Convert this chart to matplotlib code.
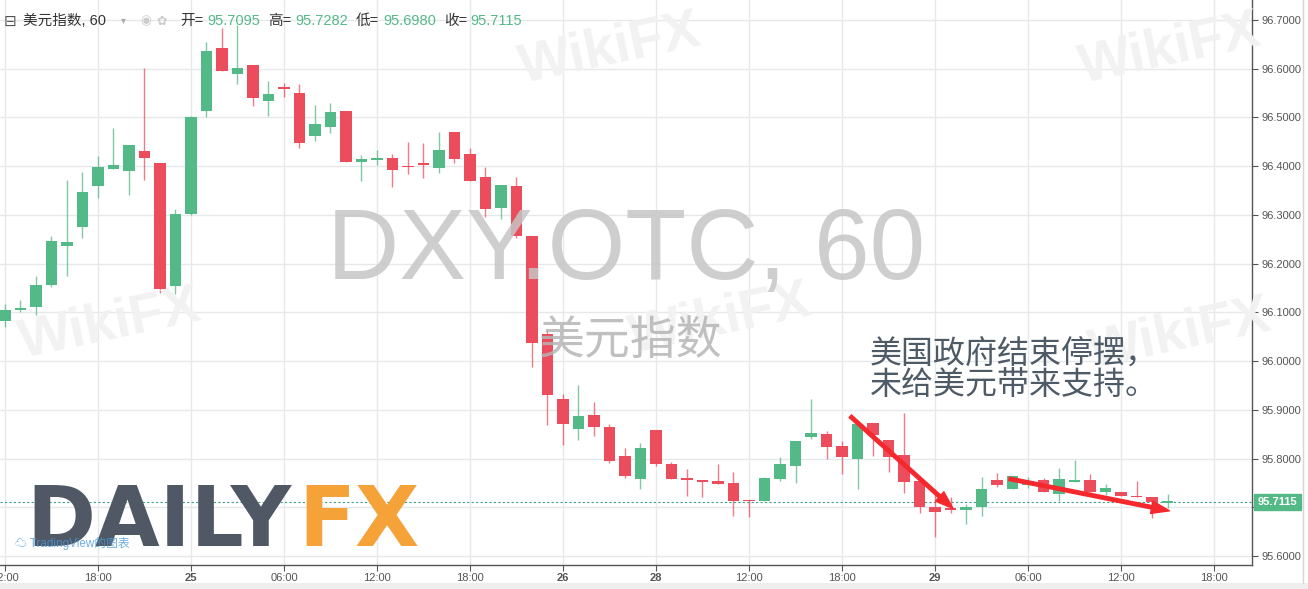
import matplotlib
import matplotlib.pyplot as plt
import numpy as np
from matplotlib.patches import FancyArrowPatch

matplotlib.use("Agg")

plt.rcParams["font.family"] = ["Liberation Sans", "Noto Sans CJK SC", "DejaVu Sans"]

# hourly candles, 24th 12:00 onwards (bar index = hour slot)
opens = [96.083, 96.106, 96.112, 96.156, 96.237, 96.276, 96.360, 96.395, 96.391, 96.431,
         96.407, 96.154, 96.303, 96.514, 96.643, 96.589, 96.608, 96.534, 96.563, 96.550,
         96.461, 96.481, 96.513, 96.408, 96.413, 96.417, 96.400, 96.405, 96.397, 96.470,
         96.425, 96.378, 96.315, 96.359, 96.257, 96.055, 95.922, 95.862, 95.889, 95.865,
         95.805, 95.758, 95.859, 95.789, 95.760, 95.755, 95.754, 95.750, 95.716, 95.713,
         95.759, 95.785, 95.845, 95.850, 95.826, 95.800, 95.874, 95.838, 95.807, 95.754,
         95.701, 95.699, 95.695, 95.701, 95.756, 95.738, 95.747, 95.756, 95.727, 95.753,
         95.756, 95.732, 95.731, 95.723, 95.721, 95.7095]
highs = [96.117, 96.125, 96.175, 96.257, 96.372, 96.388, 96.420, 96.478, 96.443, 96.601,
         96.407, 96.312, 96.503, 96.655, 96.684, 96.690, 96.608, 96.575, 96.571, 96.569,
         96.526, 96.529, 96.513, 96.423, 96.433, 96.426, 96.450, 96.447, 96.470, 96.470,
         96.437, 96.398, 96.361, 96.377, 96.257, 96.064, 95.933, 95.952, 95.916, 95.872,
         95.823, 95.833, 95.859, 95.794, 95.778, 95.755, 95.789, 95.773, 95.716, 95.762,
         95.803, 95.836, 95.922, 95.857, 95.836, 95.872, 95.874, 95.838, 95.894, 95.754,
         95.737, 95.722, 95.707, 95.762, 95.770, 95.764, 95.763, 95.761, 95.780, 95.797,
         95.768, 95.749, 95.731, 95.754, 95.721, 95.7282]
lows = [96.070, 96.101, 96.095, 96.153, 96.175, 96.253, 96.335, 96.394, 96.342, 96.372,
        96.140, 96.138, 96.300, 96.500, 96.596, 96.568, 96.524, 96.503, 96.541, 96.437,
        96.452, 96.468, 96.408, 96.370, 96.402, 96.358, 96.384, 96.376, 96.387, 96.407,
        96.370, 96.295, 96.291, 96.253, 95.989, 95.869, 95.829, 95.838, 95.847, 95.792,
        95.760, 95.737, 95.785, 95.759, 95.724, 95.721, 95.748, 95.683, 95.680, 95.713,
        95.754, 95.751, 95.841, 95.800, 95.768, 95.737, 95.806, 95.773, 95.729, 95.688,
        95.639, 95.688, 95.667, 95.683, 95.741, 95.738, 95.739, 95.731, 95.714, 95.753,
        95.731, 95.725, 95.724, 95.721, 95.678, 95.6980]
closes = [96.105, 96.110, 96.156, 96.247, 96.244, 96.347, 96.398, 96.402, 96.443, 96.417,
          96.149, 96.302, 96.500, 96.636, 96.596, 96.601, 96.539, 96.548, 96.559, 96.448,
          96.487, 96.511, 96.408, 96.415, 96.417, 96.393, 96.398, 96.403, 96.433, 96.415,
          96.370, 96.313, 96.361, 96.257, 96.038, 95.930, 95.872, 95.887, 95.865, 95.796,
          95.765, 95.823, 95.790, 95.759, 95.757, 95.753, 95.749, 95.714, 95.713, 95.760,
          95.789, 95.836, 95.853, 95.824, 95.803, 95.872, 95.849, 95.804, 95.753, 95.701,
          95.691, 95.694, 95.701, 95.738, 95.746, 95.764, 95.755, 95.732, 95.758, 95.756,
          95.731, 95.740, 95.724, 95.721, 95.711, 95.7115]

tick_pos = [0, 6, 12, 18, 24, 30, 36, 42, 48, 54, 60, 66, 72, 78]
tick_labels = ["12:00", "18:00", "25", "06:00", "12:00", "18:00", "26", "28",
               "12:00", "18:00", "29", "06:00", "12:00", "18:00"]
bold_labels = ["25", "26", "28", "29"]
price_ticks = [95.6, 95.7, 95.8, 95.9, 96.0, 96.1, 96.2, 96.3, 96.4, 96.5, 96.6, 96.7]

UP = "#53b987"
DOWN = "#eb4d5c"
W, H = 1308, 589


def px(x, y):
    return x / W, 1 - y / H


fig = plt.figure(figsize=(W / 100, H / 100), dpi=100)
ax = fig.add_axes([0, 24 / H, 1252 / W, 565 / H])

o = np.array(opens)
c = np.array(closes)
hi = np.array(highs)
lo = np.array(lows)
idx = np.arange(len(o))
up = c >= o
cols = np.where(up, UP, DOWN)

ax.vlines(idx, lo, hi, colors=cols, lw=1, alpha=0.75, zorder=3)
body_low = np.minimum(o, c)
body_h = np.maximum(np.abs(c - o), 0.003)
ax.bar(idx, body_h, bottom=body_low, width=0.72, color=cols, zorder=4)

ax.set_xlim(-0.32, 80.45)
ax.set_ylim(95.582, 96.741)

ax.set_xticks(tick_pos)
ax.set_xticklabels(tick_labels)
for t in ax.get_xticklabels():
    t.set_fontsize(8)
    t.set_color("#555555")
    if t.get_text() in bold_labels:
        t.set_fontweight("bold")
ax.yaxis.tick_right()
ax.set_yticks(price_ticks)
ax.set_yticklabels([f"{p:.4f}" for p in price_ticks], fontsize=8, color="#555555")
ax.tick_params(axis="y", length=4, width=0.8, color="#555555", pad=3)
ax.tick_params(axis="x", length=4, width=0.8, color="#555555", pad=2)
ax.grid(True, color="#e6e9ec", lw=1, zorder=0)
for s in ["top", "left"]:
    ax.spines[s].set_visible(False)
for s in ["right", "bottom"]:
    ax.spines[s].set_color("#555555")
    ax.spines[s].set_linewidth(1)

# last price line and tag
last = closes[-1]
ax.axhline(last, color="#3c9f8a", lw=0.8, ls=(0, (2, 2)), zorder=2)
ax.annotate(f"{last:.4f}", xy=(1, last), xycoords=("axes fraction", "data"),
            xytext=(4, 0), textcoords="offset points", ha="left", va="center",
            fontsize=8, fontweight="bold", color="white", zorder=6,
            bbox=dict(boxstyle="square,pad=0.3", fc=UP, ec=UP), annotation_clip=False)

# faint WikiFX watermarks
for wx, wy in [(110, 325), (720, 320), (1180, 335), (610, 50), (1170, 50)]:
    fig.text(*px(wx, wy), "WikiFX", fontsize=40, fontweight="bold", color="#f2f2f2",
             ha="center", va="center", rotation=12, zorder=0)

# symbol watermark
fig.text(*px(626, 253), "DXY.OTC, 60", fontsize=72, color="#c6c6c6", alpha=0.85,
         ha="center", va="center", zorder=1)
fig.text(*px(630, 342), "美元指数", fontsize=33, color="#b5b5b5", alpha=0.85,
         ha="center", va="center", zorder=1)

# header
fig.text(*px(4, 21), "⊟", fontsize=11, color="#555555", va="center",
         family=["DejaVu Sans"])
fig.text(*px(23, 21), "美元指数, 60", fontsize=10.5, color="#333333", va="center")
fig.text(*px(121, 20), "▾", fontsize=7, color="#aaaaaa", va="center",
         family=["DejaVu Sans"])
fig.text(*px(140, 21), "◉", fontsize=9, color="#cccccc", va="center",
         family=["DejaVu Sans"])
fig.text(*px(156, 21), "✿", fontsize=9, color="#cccccc", va="center",
         family=["DejaVu Sans"])
header = [("开=", 180, "95.7095", 207), ("高=", 268, "95.7282", 295),
          ("低=", 356, "95.6980", 383), ("收=", 444, "95.7115", 470)]
for k, kx, v, vx in header:
    fig.text(*px(kx, 21), k, fontsize=10.5, color="#333333", va="center")
    fig.text(*px(vx, 21), v, fontsize=10.5, color=UP, va="center")

# annotation text
fig.text(*px(870, 354), "美国政府结束停摆，", fontsize=23, color="#4e5a66",
         va="center", ha="left", zorder=7)
fig.text(*px(870, 386), "未给美元带来支持。", fontsize=23, color="#4e5a66",
         va="center", ha="left", zorder=7)

# red arrows
for start, end in [((54.4, 95.891), (61.3, 95.694)), ((64.6, 95.760), (75.3, 95.692))]:
    ax.add_patch(FancyArrowPatch(start, end,
                                 arrowstyle="simple,head_width=9,head_length=13,tail_width=2.5",
                                 color="#f5282e", zorder=8, mutation_scale=1))

# DailyFX logo
fig.text(*px(26, 522), "DAILY", fontsize=60, fontweight="bold", color="#4f5864",
         va="center", ha="left", family=["DejaVu Sans"], zorder=9)
fig.text(*px(298, 522), "FX", fontsize=60, fontweight="bold", color="#f5a239",
         va="center", ha="left", family=["DejaVu Sans"], zorder=9)
fig.text(*px(15, 544), "☁ TradingView的图表", fontsize=8.5, color="#4a9ad8", alpha=0.8,
         va="center", ha="left", zorder=10)

# outer frame pieces
fig.add_artist(plt.Line2D([1303 / W, 1303 / W], [6 / H, 1], color="#d5d5d5", lw=1))
fig.add_artist(plt.Rectangle((0, 0), 1, 6 / H, color="#eeeeee", lw=0))

fig.savefig("out.png", dpi=100)
